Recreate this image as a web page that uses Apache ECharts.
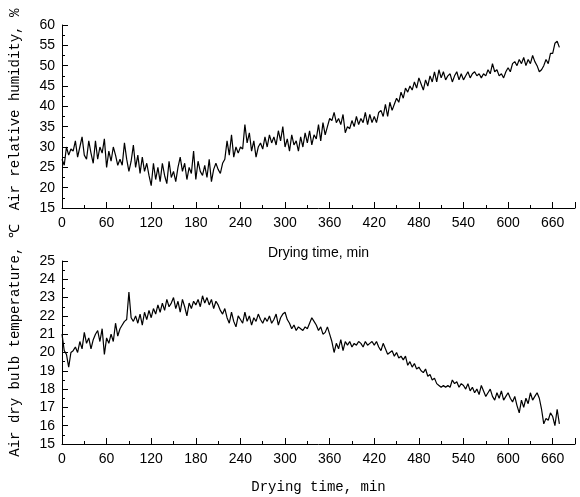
<!DOCTYPE html>
<html>
<head>
<meta charset="utf-8">
<script src="https://cdn.jsdelivr.net/npm/echarts@6/dist/echarts.min.js"></script>
<style>
  html, body { margin: 0; padding: 0; background: #fff; }
  #chart { width: 580px; height: 497px; }
</style>
</head>
<body>
<div id="chart"></div>
<script>
// drying time, min (one reading every 3 min)
const timeStep = 3;
const xTicks = [0, 60, 120, 180, 240, 300, 360, 420, 480, 540, 600, 660];

// air relative humidity, %
const humidity = [
  27, 25.5, 30, 28, 29.5, 29, 31.5, 27.5, 30, 32.5, 28, 27, 31.5, 28.5, 26, 31.5, 27, 30, 28.5, 32,
  25, 29, 26.5, 30, 28, 25.5, 27, 25.5, 31, 27, 24, 26.5, 30.5, 25, 28, 23.5, 27.5, 24, 26, 23,
  20.5, 26, 22, 25, 21.5, 26, 23, 21, 26.5, 22.5, 24, 21.5, 25, 27.5, 24, 26, 22, 25, 23.5, 29,
  22, 26.5, 24, 23, 25.5, 22.5, 27, 21.5, 24.5, 26, 24.5, 23.5, 26, 27, 31.5, 28, 33, 27.5, 30, 28.5,
  30, 29.5, 35.5, 31, 33.5, 29, 31.5, 27.5, 30, 31, 29.5, 32.5, 30, 33, 31, 32.5, 30.5, 34, 31.5, 35,
  30, 32, 29, 33, 30.5, 31.5, 29, 32.5, 30, 33.5, 31, 34, 30.5, 33, 32, 35.5, 31.5, 36, 33, 35,
  37, 36.5, 38.5, 36, 37, 35.5, 38, 33.5, 35, 34.5, 36.5, 35, 37.5, 35.5, 37, 36, 38.5, 35.5, 38, 36,
  37.5, 36, 38.5, 39, 37.5, 40.5, 37.5, 41, 39, 40.5, 42, 41, 43.5, 42, 44.5, 43.5, 45, 44, 46, 44.5,
  47, 45.5, 44, 46.5, 45, 47.5, 46, 48.5, 46, 49, 47, 48.5, 46.5, 47.5, 48, 46, 47.5, 48.5, 46.5, 48,
  46.5, 47.5, 48.5, 47, 48, 48.5, 47.5, 48, 47, 48, 47.5, 49, 48, 50.5, 48.5, 49, 47.5, 48, 47, 48.5,
  49.5, 48.5, 50.5, 51, 50, 51.5, 50.5, 52, 50, 51.5, 50.5, 52.5, 51, 50, 48.5, 49, 50, 51.5, 50.5, 53,
  53, 55.5, 56, 54.5
];

// air dry bulb temperature, ℃
const temperature = [
  21, 20.1, 19.9, 19.2, 20.0, 20.1, 20.3, 20.0, 20.6, 20.2, 21.1, 20.5, 20.8, 20.2, 20.7, 21.0, 21.2, 20.6, 21.3, 19.9,
  20.8, 20.5, 21.0, 20.6, 21.6, 20.9, 21.3, 21.5, 21.7, 21.8, 23.3, 21.9, 21.7, 22.0, 21.6, 22.1, 21.5, 22.2, 21.8, 22.3,
  21.9, 22.4, 22.1, 22.6, 22.2, 22.7, 22.3, 22.9, 22.5, 22.7, 23.0, 22.4, 22.8, 22.2, 22.9, 22.5, 22.0, 22.7, 22.4, 22.8,
  22.6, 22.9, 22.5, 23.1, 22.7, 23.0, 22.6, 22.9, 22.4, 22.8, 22.6, 22.3, 22.1, 22.4, 21.9, 21.6, 22.2, 21.7, 21.4, 22.0,
  21.8, 21.6, 22.2, 21.7, 22.0, 21.5, 21.9, 21.7, 22.1, 21.8, 21.6, 21.9, 21.7, 22.0, 21.6, 21.8, 22.1, 21.5, 21.9, 22.1,
  22.2, 21.8, 21.6, 21.3, 21.5, 21.2, 21.4, 21.3, 21.2, 21.4, 21.3, 21.6, 21.9, 21.7, 21.5, 21.2, 21.4, 21.0, 21.1, 21.4,
  21.0, 20.6, 20.0, 20.5, 20.2, 20.7, 20.1, 20.6, 20.4, 20.6, 20.3, 20.5, 20.4, 20.6, 20.5, 20.3, 20.6, 20.4, 20.5, 20.6,
  20.4, 20.6, 20.3, 20.1, 20.5, 20.2, 19.9, 20.0, 20.1, 19.8, 20.0, 19.7, 19.8, 19.6, 19.8, 19.3, 19.5, 19.2, 19.4, 19.1,
  19.2, 19.0, 18.9, 19.1, 18.7, 18.8, 18.5, 18.6, 18.3, 18.2, 18.1, 18.2, 18.1, 18.2, 18.1, 18.5, 18.3, 18.4, 18.1, 18.3,
  18.2, 18.0, 18.3, 17.9, 18.1, 17.8, 18.0, 17.7, 18.2, 17.9, 17.6, 17.8, 18.0, 17.6, 17.4, 17.8, 17.5, 17.9, 17.4, 17.6,
  17.8, 17.5, 17.3, 17.6, 17.1, 16.7, 17.4, 17.0, 17.5, 17.2, 17.8, 17.4, 17.6, 17.8, 17.5, 16.9, 16.1, 16.4, 16.3, 16.7,
  16.5, 16.0, 16.9, 16.1
];

const toPairs = arr => arr.map((v, i) => [i * timeStep, v]);

const sans = '"Liberation Sans", Arial, sans-serif';
const mono = '"Liberation Mono", "Courier New", monospace';

function xAxisFor(gridIndex, name, nameFont, gap) {
  return {
    type: 'value', gridIndex: gridIndex, min: 0, max: 690, interval: 60,
    name: name, nameLocation: 'middle', nameGap: gap,
    nameTextStyle: { fontFamily: nameFont, fontSize: 14, color: '#000' },
    axisLine: { lineStyle: { color: '#000', width: 1 } },
    axisTick: { inside: true, length: 6, lineStyle: { color: '#000' } },
    minorTick: { show: true, splitNumber: 2, length: 3, lineStyle: { color: '#000' } },
    axisLabel: { fontFamily: sans, fontSize: 14, color: '#000', margin: 8, showMaxLabel: false,
      formatter: v => xTicks.indexOf(v) >= 0 ? String(v) : '' },
    splitLine: { show: false }
  };
}

function yAxisFor(gridIndex, name, min, max, interval, pad) {
  return {
    type: 'value', gridIndex: gridIndex, min: min, max: max, interval: interval,
    name: name, nameLocation: 'middle', nameGap: 40, nameRotate: 90,
    nameTextStyle: { fontFamily: mono, fontSize: 14, color: '#000', padding: pad },
    axisLine: { show: true, lineStyle: { color: '#000', width: 1 } },
    axisTick: { inside: true, length: 6, lineStyle: { color: '#000' } },
    minorTick: { show: true, splitNumber: 2, length: 3, lineStyle: { color: '#000' } },
    axisLabel: { fontFamily: sans, fontSize: 14, color: '#000', margin: 7 },
    splitLine: { show: false }
  };
}

const chart = echarts.init(document.getElementById('chart'), null, { renderer: 'canvas' });
chart.setOption({
  animation: false,
  backgroundColor: '#fff',
  grid: [
    { left: 59, top: 25, width: 516, height: 183 },
    { left: 59, top: 261, width: 516, height: 183 }
  ],
  xAxis: [
    xAxisFor(0, 'Drying time, min', sans, 38),
    xAxisFor(1, 'Drying time, min', mono, 36)
  ],
  yAxis: [
    yAxisFor(0, 'Air relative humidity, %', 15, 60, 5, [0, 0, 0, 14]),
    yAxisFor(1, 'Air dry bulb temperature, ℃', 15, 25, 1, [0, 0, 0, 24])
  ],
  series: [
    {
      type: 'line', xAxisIndex: 0, yAxisIndex: 0, data: toPairs(humidity),
      showSymbol: false, lineStyle: { color: '#000', width: 1.2 }
    },
    {
      type: 'line', xAxisIndex: 1, yAxisIndex: 1, data: toPairs(temperature),
      showSymbol: false, lineStyle: { color: '#000', width: 1.2 }
    }
  ]
});
</script>
</body>
</html>
